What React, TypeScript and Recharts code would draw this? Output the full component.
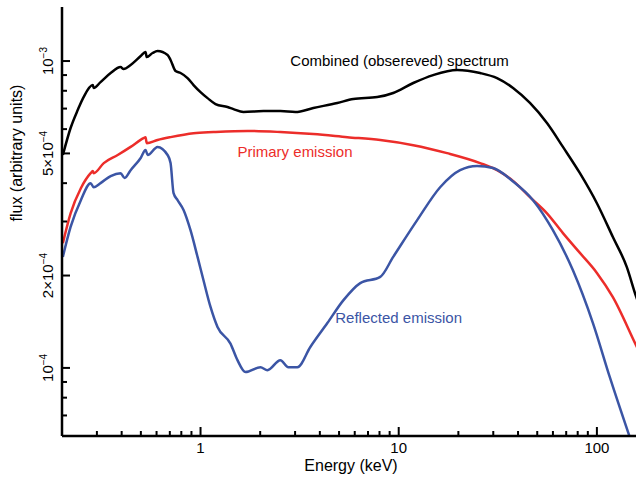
import React from 'react';
import { LineChart, Line, XAxis, YAxis, ReferenceDot } from 'recharts';

// energies in keV, fluxes in arbitrary units
const energyCombined = [0.202, 0.221, 0.24, 0.257, 0.286, 0.289, 0.313, 0.352, 0.395, 0.409, 0.444, 0.499, 0.528, 0.535, 0.573, 0.607, 0.682, 0.706, 0.748, 0.793, 0.86, 0.922, 1.0, 1.085, 1.19, 1.368, 1.466, 1.646, 2.077, 2.529, 3.01, 3.708, 4.9, 5.9, 7.79, 9.38, 11.84, 14.92, 19.71, 25.74, 31.35, 37.75, 45.94, 55.99, 67.4, 82.1, 100, 120.4, 141.6, 157.1, 166.6];
const fluxCombined = [4.94e-4, 6.05e-4, 6.92e-4, 7.63e-4, 8.35e-4, 8.17e-4, 8.54e-4, 9.14e-4, 9.56e-4, 9.42e-4, 9.71e-4, 1.038e-3, 1.07e-3, 1.03e-3, 1.062e-3, 1.078e-3, 1.046e-3, 1.008e-3, 9.28e-4, 9.14e-4, 8.8e-4, 8.35e-4, 7.92e-4, 7.57e-4, 7.24e-4, 7.08e-4, 6.97e-4, 6.82e-4, 6.87e-4, 6.87e-4, 6.82e-4, 7.03e-4, 7.3e-4, 7.52e-4, 7.63e-4, 7.87e-4, 8.48e-4, 9.0e-4, 9.35e-4, 9.14e-4, 8.8e-4, 8.17e-4, 7.3e-4, 6.28e-4, 5.25e-4, 4.31e-4, 3.44e-4, 2.67e-4, 2.13e-4, 1.72e-4, 1.55e-4];

const energyPrimary = [0.202, 0.221, 0.249, 0.279, 0.286, 0.289, 0.325, 0.382, 0.444, 0.516, 0.528, 0.535, 0.607, 0.706, 0.922, 1.163, 1.725, 2.529, 3.708, 5.505, 8.07, 11.84, 17.54, 25.74, 31.35, 37.75, 45.94, 55.99, 67.4, 82.1, 100, 120.4, 157.1, 166.6];
const fluxPrimary = [2.55e-4, 3.19e-4, 3.85e-4, 4.31e-4, 4.38e-4, 4.31e-4, 4.65e-4, 4.94e-4, 5.25e-4, 5.61e-4, 5.65e-4, 5.4e-4, 5.53e-4, 5.65e-4, 5.82e-4, 5.87e-4, 5.92e-4, 5.87e-4, 5.78e-4, 5.65e-4, 5.53e-4, 5.32e-4, 5.01e-4, 4.65e-4, 4.41e-4, 4.07e-4, 3.6e-4, 3.19e-4, 2.75e-4, 2.37e-4, 2.04e-4, 1.7e-4, 1.19e-4, 1.1e-4];

const energyReflected = [0.202, 0.221, 0.249, 0.279, 0.289, 0.313, 0.352, 0.395, 0.414, 0.444, 0.499, 0.528, 0.541, 0.607, 0.682, 0.706, 0.731, 0.766, 0.821, 0.89, 0.966, 1.035, 1.123, 1.218, 1.416, 1.536, 1.686, 2.006, 2.176, 2.529, 2.775, 3.081, 3.581, 4.365, 5.252, 6.397, 8.07, 9.38, 12.39, 16.18, 20.41, 24.85, 29.93, 37.75, 47.6, 59.98, 75.7, 95.5, 116.2, 146.6];
const fluxReflected = [2.3e-4, 2.88e-4, 3.52e-4, 4.0e-4, 3.88e-4, 4.0e-4, 4.22e-4, 4.31e-4, 4.16e-4, 4.41e-4, 4.83e-4, 5.13e-4, 4.94e-4, 5.25e-4, 4.94e-4, 4.65e-4, 3.71e-4, 3.52e-4, 3.27e-4, 2.81e-4, 2.3e-4, 1.93e-4, 1.58e-4, 1.36e-4, 1.2e-4, 1.06e-4, 0.969e-4, 1.005e-4, 0.983e-4, 1.06e-4, 1.005e-4, 1.005e-4, 1.17e-4, 1.4e-4, 1.66e-4, 1.89e-4, 1.98e-4, 2.3e-4, 3.03e-4, 3.88e-4, 4.41e-4, 4.55e-4, 4.48e-4, 4.05e-4, 3.52e-4, 2.81e-4, 2.08e-4, 1.4e-4, 0.933e-4, 0.594e-4];

const energyTicks = [0.3, 0.4, 0.5, 0.6, 0.7, 0.8, 0.9, 1, 2, 3, 4, 5, 6, 7, 8, 9, 10, 20, 30, 40, 50, 60, 70, 80, 90, 100];
const energyLabels = [1, 10, 100];
const fluxTicks = [7e-5, 8e-5, 9e-5, 1e-4, 2e-4, 3e-4, 4e-4, 5e-4, 6e-4, 7e-4, 8e-4, 9e-4, 1e-3];
const fluxLabelValues = [1e-4, 2e-4, 5e-4, 1e-3];
const fluxLabelBases = ['10', '2×10', '5×10', '10'];
const fluxLabelExps = ['−4', '−4', '−4', '−3'];

const noteTexts = ['Combined (obsereved) spectrum', 'Primary emission', 'Reflected emission'];
const noteEnergies = [2.84, 1.536, 4.786];
const noteFluxes = [9.63e-4, 4.86e-4, 1.4e-4];
const noteColors = ['#000000', '#ec2d2a', '#3b55a5'];

const toPoints = (e: number[], f: number[]) => e.map((v, i) => ({ e: v, flux: f[i] }));
const combined = toPoints(energyCombined, fluxCombined);
const primary = toPoints(energyPrimary, fluxPrimary);
const reflected = toPoints(energyReflected, fluxReflected);

const FONT = '"Liberation Sans", Arial, Helvetica, sans-serif';
const near = (a: number, b: number) => Math.abs(a - b) <= Math.abs(b) * 1e-6;

const BottomTick = (props: any) => {
  const { x, y, payload } = props;
  const major = energyLabels.some((v) => near(payload.value, v));
  return (
    <g>
      <line x1={x} y1={y} x2={x} y2={y - (major ? 9 : 5)} stroke="#000" strokeWidth={2} />
      {major && (
        <text x={x} y={y + 17} textAnchor="middle" fontSize={15} fontFamily={FONT} fill="#000">
          {payload.value}
        </text>
      )}
    </g>
  );
};

const TopTick = (props: any) => {
  const { x, y, payload } = props;
  const major = energyLabels.some((v) => near(payload.value, v));
  return <line x1={x} y1={y} x2={x} y2={y + (major ? 9 : 5)} stroke="#000" strokeWidth={2} />;
};

const LeftTick = (props: any) => {
  const { x, y, payload } = props;
  const idx = fluxLabelValues.findIndex((v) => near(payload.value, v));
  return (
    <g>
      <line x1={x} y1={y} x2={x + (idx >= 0 ? 8 : 5)} y2={y} stroke="#000" strokeWidth={2} />
      {idx >= 0 && (
        <text
          transform={`translate(${x - 9},${y}) rotate(-90)`}
          textAnchor="middle"
          fontSize={15}
          fontFamily={FONT}
          fill="#000"
        >
          {fluxLabelBases[idx]}
          <tspan dy={-6} fontSize={10}>{fluxLabelExps[idx]}</tspan>
        </text>
      )}
    </g>
  );
};

const RightTick = (props: any) => {
  const { x, y, payload } = props;
  const major = fluxLabelValues.some((v) => near(payload.value, v));
  return <line x1={x} y1={y} x2={x - (major ? 8 : 5)} y2={y} stroke="#000" strokeWidth={2} />;
};

const NoteLabel = (props: any) => {
  const { viewBox, text, color } = props;
  return (
    <text x={viewBox.x} y={viewBox.y} fill={color} fontSize={15} fontFamily={FONT}>
      {text}
    </text>
  );
};

export default function App() {
  return (
    <div style={{ position: 'absolute', left: 0, top: 0, width: 636, height: 480, overflow: 'hidden', background: '#fff' }}>
      <LineChart width={642} height={480} margin={{ top: 7, right: 2, bottom: 0, left: 0 }}>
        <XAxis
          dataKey="e"
          type="number"
          scale="log"
          domain={[0.2, 165]}
          allowDataOverflow
          ticks={energyTicks}
          interval={0}
          tickSize={0}
          tickMargin={0}
          tickLine={false}
          tick={<BottomTick />}
          axisLine={{ stroke: '#000', strokeWidth: 2.5 }}
          height={44}
          label={{ value: 'Energy (keV)', position: 'insideBottom', offset: 9, fill: '#000', fontSize: 16, fontFamily: FONT }}
        />
        <XAxis
          xAxisId="top"
          orientation="top"
          dataKey="e"
          type="number"
          scale="log"
          domain={[0.2, 165]}
          allowDataOverflow
          ticks={energyTicks}
          interval={0}
          tickSize={0}
          tickMargin={0}
          tickLine={false}
          tick={<TopTick />}
          axisLine={{ stroke: '#000', strokeWidth: 2.5 }}
          height={0}
        />
        <YAxis
          dataKey="flux"
          type="number"
          scale="log"
          domain={[6e-5, 1.5e-3]}
          allowDataOverflow
          ticks={fluxTicks}
          interval={0}
          tickSize={0}
          tickMargin={0}
          tickLine={false}
          tick={<LeftTick />}
          axisLine={{ stroke: '#000', strokeWidth: 2.5 }}
          width={62}
          label={{ value: 'flux (arbitrary units)', angle: -90, position: 'insideLeft', offset: 16, fill: '#000', fontSize: 16, fontFamily: FONT }}
        />
        <YAxis
          yAxisId="right"
          orientation="right"
          dataKey="flux"
          type="number"
          scale="log"
          domain={[6e-5, 1.5e-3]}
          allowDataOverflow
          ticks={fluxTicks}
          interval={0}
          tickSize={0}
          tickMargin={0}
          tickLine={false}
          tick={<RightTick />}
          axisLine={{ stroke: '#000', strokeWidth: 2.5 }}
          width={0}
        />
        <Line data={combined} dataKey="flux" type="monotone" stroke="#000000" strokeWidth={2.5} dot={false} activeDot={false} isAnimationActive={false} />
        <Line data={primary} dataKey="flux" type="monotone" stroke="#ec2d2a" strokeWidth={2.5} dot={false} activeDot={false} isAnimationActive={false} />
        <Line data={reflected} dataKey="flux" type="monotone" stroke="#3b55a5" strokeWidth={2.5} dot={false} activeDot={false} isAnimationActive={false} />
        {noteTexts.map((t, i) => (
          <ReferenceDot
            key={t}
            x={noteEnergies[i]}
            y={noteFluxes[i]}
            r={0}
            fill="none"
            stroke="none"
            label={<NoteLabel text={t} color={noteColors[i]} />}
          />
        ))}
      </LineChart>
    </div>
  );
}
